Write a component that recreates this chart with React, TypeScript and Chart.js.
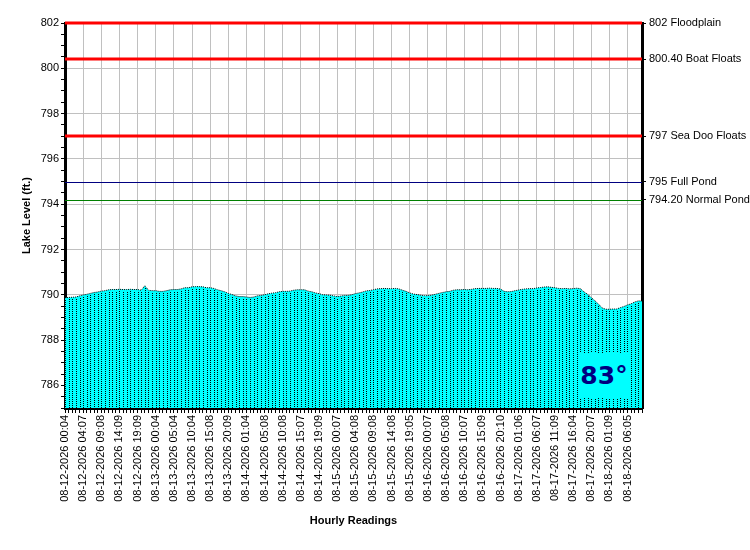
import React, { useEffect, useRef } from "react";
import { Chart, registerables, Plugin } from "chart.js";

Chart.register(...registerables);

// tick labels shown on the x axis, one every 5 readings
const tickLabels = [
  "08-12-2026 00:04", "08-12-2026 04:07", "08-12-2026 09:08", "08-12-2026 14:09",
  "08-12-2026 19:09", "08-13-2026 00:04", "08-13-2026 05:04", "08-13-2026 10:04",
  "08-13-2026 15:08", "08-13-2026 20:09", "08-14-2026 01:04", "08-14-2026 05:08",
  "08-14-2026 10:08", "08-14-2026 15:07", "08-14-2026 19:09", "08-15-2026 00:07",
  "08-15-2026 04:08", "08-15-2026 09:08", "08-15-2026 14:08", "08-15-2026 19:05",
  "08-16-2026 00:07", "08-16-2026 05:08", "08-16-2026 10:07", "08-16-2026 15:09",
  "08-16-2026 20:10", "08-17-2026 01:06", "08-17-2026 06:07", "08-17-2026 11:09",
  "08-17-2026 16:04", "08-17-2026 20:07", "08-18-2026 01:09", "08-18-2026 06:05",
];
const labelEvery = 5;

// hourly lake level readings (ft.)
const lakeLevels = [
  789.87, 789.88, 789.89, 789.90, 789.95, 789.99, 790.02, 790.06, 790.10, 790.12,
  790.16, 790.18, 790.22, 790.23, 790.23, 790.24, 790.23, 790.23, 790.24, 790.23,
  790.23, 790.20, 790.40, 790.20, 790.18, 790.18, 790.15, 790.15, 790.18, 790.22,
  790.23, 790.23, 790.26, 790.31, 790.31, 790.35, 790.36, 790.36, 790.35, 790.31,
  790.31, 790.28, 790.22, 790.18, 790.13, 790.06, 790.01, 789.95, 789.92, 789.92,
  789.90, 789.88, 789.90, 789.95, 789.97, 790.00, 790.04, 790.07, 790.09, 790.13,
  790.15, 790.15, 790.16, 790.20, 790.22, 790.22, 790.22, 790.16, 790.13, 790.08,
  790.05, 790.00, 789.99, 789.98, 789.95, 789.92, 789.94, 789.97, 789.97, 790.00,
  790.05, 790.08, 790.12, 790.17, 790.19, 790.22, 790.26, 790.27, 790.28, 790.27,
  790.27, 790.28, 790.26, 790.20, 790.15, 790.08, 790.03, 790.01, 789.98, 789.96,
  789.96, 789.98, 790.02, 790.06, 790.10, 790.13, 790.15, 790.20, 790.22, 790.22,
  790.23, 790.22, 790.24, 790.27, 790.28, 790.28, 790.28, 790.29, 790.28, 790.28,
  790.25, 790.15, 790.13, 790.14, 790.18, 790.21, 790.24, 790.26, 790.27, 790.27,
  790.30, 790.32, 790.34, 790.35, 790.33, 790.31, 790.28, 790.27, 790.28, 790.26,
  790.27, 790.29, 790.27, 790.13, 790.02, 789.88, 789.74, 789.59, 789.42, 789.36,
  789.36, 789.37, 789.37, 789.43, 789.48, 789.55, 789.60, 789.68, 789.73, 789.72,
];

// reference levels shown on the right axis
const refLevels = [802, 800.4, 797, 795, 794.2];
const refNames = ["802 Floodplain", "800.40 Boat Floats", "797 Sea Doo Floats", "795 Full Pond", "794.20 Normal Pond"];
const refColors = ["#ff0000", "#ff0000", "#ff0000", "#000080", "#008000"];
const refWidths = [3, 3, 3, 1, 1];

const waterTemp = "83°";

const FONT = "'Liberation Sans', Arial, sans-serif";

// dotted verticals under each reading
const dropLines: Plugin<"line"> = {
  id: "dropLines",
  afterDatasetDraw(chart, args) {
    if (args.index !== 0) return;
    const { ctx, chartArea } = chart;
    const meta = chart.getDatasetMeta(0);
    ctx.save();
    ctx.strokeStyle = "#000000";
    ctx.lineWidth = 1;
    ctx.setLineDash([1, 1]);
    meta.data.forEach((pt) => {
      const x = Math.round(pt.x) + 0.5;
      ctx.beginPath();
      ctx.moveTo(x, Math.round(pt.y) + 2);
      ctx.lineTo(x, chartArea.bottom);
      ctx.stroke();
    });
    ctx.restore();
  },
};

// horizontal reference levels, placed through the y scale
const refLines: Plugin<"line"> = {
  id: "refLines",
  afterDatasetsDraw(chart) {
    const { ctx, chartArea } = chart;
    const yScale = chart.scales.y;
    ctx.save();
    refLevels.forEach((lvl, i) => {
      const w = refWidths[i];
      let y = Math.round(yScale.getPixelForValue(lvl));
      if (w % 2 === 1 && w > 1) y = y;
      else if (w === 1) y += 0.5;
      ctx.strokeStyle = refColors[i];
      ctx.lineWidth = w;
      ctx.beginPath();
      ctx.moveTo(chartArea.left, y);
      ctx.lineTo(chartArea.right, y);
      ctx.stroke();
    });
    ctx.restore();
  },
};

const App: React.FC = () => {
  const chartRef = useRef<HTMLCanvasElement>(null);
  const chartInstance = useRef<Chart>();

  useEffect(() => {
    if (!chartRef.current) return;
    const ctx = chartRef.current.getContext("2d");
    if (!ctx) return;

    const labels = lakeLevels.map((_, i) =>
      i % labelEvery === 0 ? tickLabels[i / labelEvery] ?? "" : ""
    );

    chartInstance.current = new Chart(ctx, {
      type: "line",
      data: {
        labels,
        datasets: [
          {
            data: lakeLevels,
            borderColor: "#000000",
            borderWidth: 1,
            borderDash: [1, 1],
            backgroundColor: "#00ffff",
            fill: "start",
            pointRadius: 0,
            tension: 0,
          },
        ],
      },
      options: {
        animation: false,
        responsive: false,
        layout: { padding: { top: 23, left: 0, right: 0, bottom: 0 } },
        plugins: { legend: { display: false }, tooltip: { enabled: false } },
        scales: {
          x: {
            type: "category",
            offset: false,
            border: { color: "#000000", width: 3 },
            grid: {
              color: (c) => (c.index % labelEvery === 0 ? "#c0c0c0" : "rgba(0,0,0,0)"),
              tickColor: "#000000",
              tickLength: 5,
            },
            ticks: {
              autoSkip: false,
              maxRotation: 90,
              minRotation: 90,
              padding: 2,
              color: "#000000",
              font: { family: FONT, size: 11 },
            },
            title: {
              display: true,
              text: "Hourly Readings",
              color: "#000000",
              font: { family: FONT, size: 11, weight: "bold" },
              padding: { top: 0, bottom: 22 },
            },
            afterFit: (s) => {
              s.height = 142;
            },
          },
          y: {
            min: 785,
            max: 802,
            border: { color: "#000000", width: 3 },
            grid: {
              color: (c) => (c.tick && c.tick.value % 2 === 0 ? "#c0c0c0" : "rgba(0,0,0,0)"),
              tickColor: "#000000",
              tickLength: 4,
            },
            ticks: {
              stepSize: 0.5,
              autoSkip: false,
              padding: 2,
              color: "#000000",
              font: { family: FONT, size: 11 },
              callback: (v) => (Number(v) % 2 === 0 ? String(v) : ""),
            },
            title: {
              display: true,
              text: "Lake Level (ft.)",
              color: "#000000",
              font: { family: FONT, size: 11, weight: "bold" },
              padding: { top: 20, bottom: 0 },
            },
            afterFit: (s) => {
              s.width = 65;
            },
          },
          y1: {
            position: "right",
            min: 785,
            max: 802,
            border: { color: "#000000", width: 3 },
            grid: { drawOnChartArea: false, tickColor: "#000000", tickLength: 4 },
            afterBuildTicks: (s) => {
              s.ticks = refLevels.map((v) => ({ value: v }));
            },
            ticks: {
              autoSkip: false,
              padding: 3,
              color: "#000000",
              font: { family: FONT, size: 11 },
              callback: (v) => {
                const i = refLevels.indexOf(Number(v));
                return i >= 0 ? refNames[i] : "";
              },
            },
            afterFit: (s) => {
              s.width = 108;
            },
          },
        },
      },
      plugins: [dropLines, refLines],
    });

    return () => {
      if (chartInstance.current) {
        chartInstance.current.destroy();
      }
    };
  }, []);

  return (
    <div style={{ position: "absolute", left: 0, top: 0, width: 750, height: 550, background: "#ffffff" }}>
      <canvas ref={chartRef} width={750} height={550}></canvas>
      <div
        style={{
          position: "absolute",
          left: 578,
          top: 353,
          width: 52,
          height: 45,
          background: "#00ffff",
          color: "#000080",
          fontFamily: "'DejaVu Sans', Verdana, sans-serif",
          fontWeight: "bold",
          fontSize: 25,
          display: "flex",
          alignItems: "center",
          justifyContent: "center",
        }}
      >
        {waterTemp}
      </div>
    </div>
  );
};

export default App;
